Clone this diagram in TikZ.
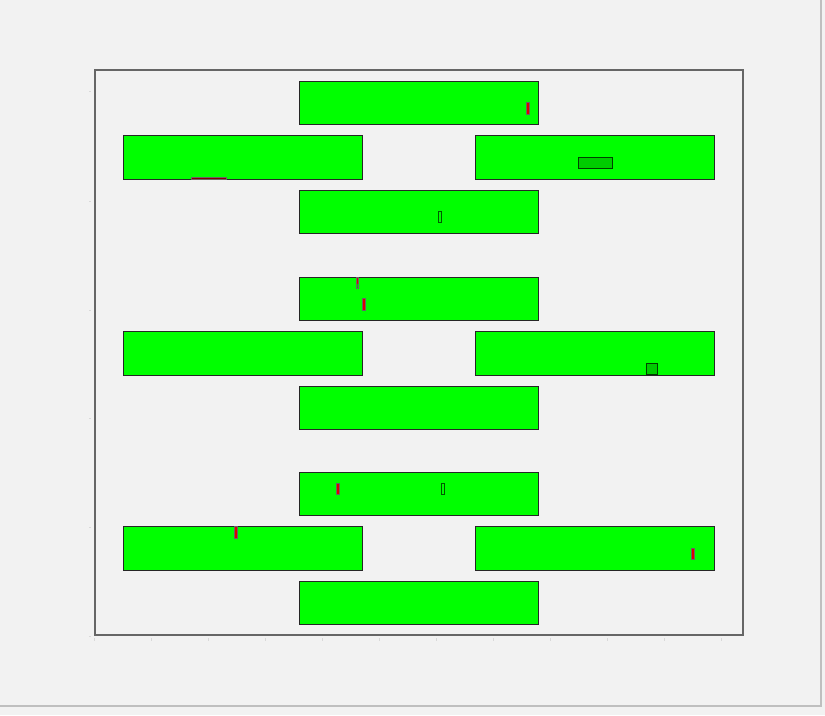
\documentclass[tikz,border=0pt]{standalone}
\usepackage{xcolor}
\usepackage{tikz}
\definecolor{panel}{HTML}{F2F2F2}
\definecolor{barfill}{HTML}{00FF00}
\definecolor{markfill}{HTML}{00CC00}
\definecolor{hitred}{HTML}{E00000}

\begin{document}
\begin{tikzpicture}[
  x=0.03cm, y=-0.03cm,
  frame/.style={draw=black!60, line width=1.1pt},
  bar/.style={draw=black!85, fill=barfill, line width=0.7pt},
  hit/.style={draw=black!60, fill=hitred, line width=0.35pt},
  slot/.style={draw=green!35!black, fill=barfill, line width=0.4pt},
  patch/.style={draw=green!25!black, fill=markfill, line width=0.6pt},
  tick/.style={draw=black!15, line width=0.4pt}
]
  % background and outer border
  \fill[panel] (0,0) rectangle (825,715);
  \useasboundingbox (0,0) rectangle (825,715);
  \draw[black!25, line width=1pt] (821,0) -- (821,706) -- (0,706);
  % axes
  \draw[frame] (95,70) rectangle (743,635);
  \foreach \tx in {94,151,208,265,322,379,436,493,550,607,664,721}
    \draw[tick] (\tx,638) -- (\tx,641);
  \foreach \ty in {91,201,310,418,527,636}
    \draw[tick] (89,\ty) -- (91,\ty);
  % three groups of four bars
  \foreach \dy [count=\g] in {0,196,391} {
    \draw[bar] (299,81+\dy) rectangle (538,124+\dy) coordinate (top\g);
    \draw[bar] (123,135+\dy) rectangle (362,179+\dy) coordinate (left\g);
    \draw[bar] (475,135+\dy) rectangle (714,179+\dy) coordinate (right\g);
    \draw[bar] (299,190+\dy) rectangle (538,233+\dy) coordinate (low\g);
  }
  % group 1 marks
  \draw[hit] (526,102) rectangle (529,114);
  \draw[patch] (578,157) rectangle (612,168);
  \draw[draw=black!60, fill=hitred!60!black, line width=0.4pt] (191,177.5) rectangle (226,179);
  \draw[slot] (438,211) rectangle (441,222);
  % group 2 marks
  \draw[hit] (356,277) rectangle (358.5,288);
  \fill[markfill] (356.5,284) rectangle (358,288);
  \draw[hit] (362,298) rectangle (365,310);
  \draw[patch] (646,363) rectangle (657,374);
  % group 3 marks
  \draw[hit] (336,483) rectangle (339,494);
  \draw[slot] (441,483) rectangle (444,494);
  \draw[hit] (234,526) rectangle (237,538);
  \draw[hit] (691,548) rectangle (694,559);
\end{tikzpicture}
\end{document}
